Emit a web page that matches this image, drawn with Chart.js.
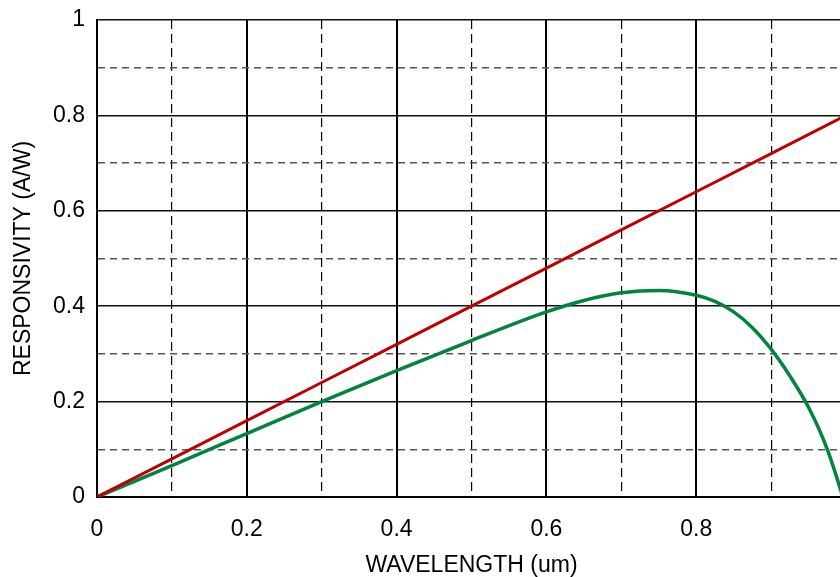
<!DOCTYPE html>
<html>
<head>
<meta charset="utf-8">
<script src="https://cdn.jsdelivr.net/npm/chart.js@4/dist/chart.umd.min.js"></script>
<style>
  html, body { margin: 0; padding: 0; background: #fff; overflow: hidden; }
  #wrap { width: 840px; height: 577px; overflow: hidden; }
</style>
</head>
<body>
<div id="wrap"><canvas id="chart" width="860" height="577"></canvas></div>
<script>
// --- DATA ---
const redWavelength = [0, 0.1, 0.2, 0.3, 0.4, 0.5, 0.6, 0.7, 0.8, 0.9, 1.0];
const redResponsivity = [0, 0.08, 0.16, 0.24, 0.32, 0.40, 0.48, 0.56, 0.64, 0.72, 0.80];

const greenWavelength = [0, 0.1, 0.2, 0.3, 0.4, 0.5, 0.6, 0.65, 0.7, 0.75, 0.8, 0.825, 0.85, 0.875, 0.9, 0.925, 0.95, 0.975, 1.0];
const greenResponsivity = [0, 0.066, 0.133, 0.2, 0.265, 0.328, 0.388, 0.412, 0.428, 0.433, 0.423, 0.41, 0.388, 0.355, 0.31, 0.254, 0.188, 0.1, -0.02];

const tickLabels = ['0', '0.2', '0.4', '0.6', '0.8', '1'];

// --- HELPERS ---
const toPoints = (xs, ys) => xs.map((x, i) => ({ x: x, y: ys[i] }));
const isMajor = (ctx) => ctx.tick ? Math.round(ctx.tick.value * 10) % 2 === 0 : true;
const labelFor = (value) => {
    const tenth = Math.round(value * 10);
    return tenth % 2 === 0 ? tickLabels[tenth / 2] : '';
};

Chart.defaults.color = '#000';
Chart.defaults.font.family = '"Liberation Sans", Arial, sans-serif';

const ctx = document.getElementById('chart').getContext('2d');
new Chart(ctx, {
    type: 'line',
    data: {
        datasets: [
            {
                data: toPoints(redWavelength, redResponsivity),
                borderColor: '#c00000',
                borderWidth: 3,
                pointRadius: 0,
                tension: 0
            },
            {
                data: toPoints(greenWavelength, greenResponsivity),
                borderColor: '#00843f',
                borderWidth: 3.5,
                pointRadius: 0,
                cubicInterpolationMode: 'monotone'
            }
        ]
    },
    options: {
        responsive: false,
        animation: false,
        layout: { padding: { top: 20, right: 14, left: 0, bottom: 0 } },
        plugins: { legend: { display: false }, tooltip: { enabled: false } },
        scales: {
            x: {
                type: 'linear',
                min: 0,
                max: 1,
                afterFit: (scale) => {
                    scale.height = 80;
                    scale.paddingLeft = 0;
                    scale.paddingRight = 0;
                },
                ticks: {
                    stepSize: 0.1,
                    maxRotation: 0,
                    autoSkip: false,
                    padding: 19,
                    font: { size: 23 },
                    callback: (value) => labelFor(value)
                },
                grid: {
                    drawTicks: false,
                    color: (c) => '#000',
                    lineWidth: (c) => isMajor(c) ? 2 : 1.2
                },
                border: {
                    display: true,
                    color: '#000',
                    width: 2,
                    dash: (c) => (c.tick && !isMajor(c)) ? [9, 5] : []
                },
                title: {
                    display: true,
                    text: 'WAVELENGTH (um)',
                    font: { size: 23, lineHeight: 1 },
                    padding: { top: 0, bottom: 0 }
                }
            },
            y: {
                type: 'linear',
                min: 0,
                max: 1,
                afterFit: (scale) => {
                    scale.width = 97;
                    scale.paddingTop = 0;
                    scale.paddingBottom = 0;
                },
                ticks: {
                    stepSize: 0.1,
                    autoSkip: false,
                    padding: 12,
                    font: { size: 23 },
                    callback: (value) => labelFor(value)
                },
                grid: {
                    drawTicks: false,
                    color: (c) => isMajor(c) ? '#111' : '#555',
                    lineWidth: 1.5
                },
                border: {
                    display: true,
                    color: '#000',
                    width: 2,
                    dash: (c) => (c.tick && !isMajor(c)) ? [7, 5] : []
                },
                title: {
                    display: true,
                    text: 'RESPONSIVITY (A/W)',
                    font: { size: 23, lineHeight: 1 },
                    padding: { top: 12, bottom: 0 }
                }
            }
        }
    }
});
</script>
</body>
</html>
